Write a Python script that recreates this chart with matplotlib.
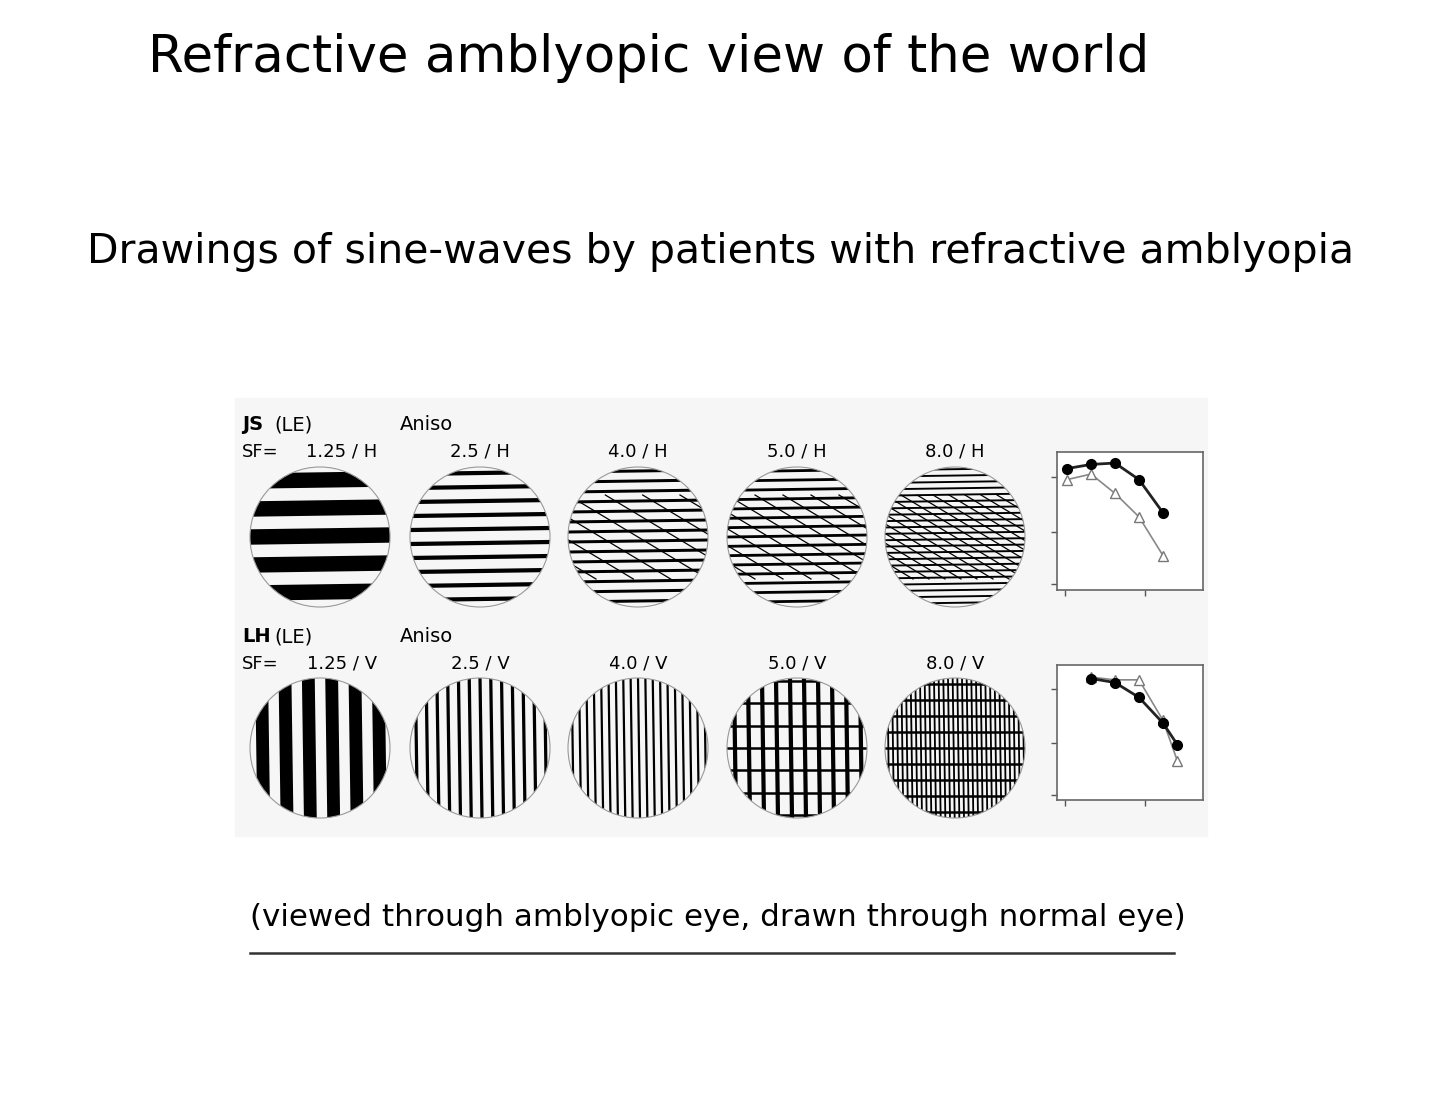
import matplotlib
matplotlib.use("Agg")
import matplotlib.pyplot as plt
import numpy as np
from matplotlib.patches import Circle, Rectangle

title = "Refractive amblyopic view of the world"
subtitle = "Drawings of sine-waves by patients with refractive amblyopia"
caption = "(viewed through amblyopic eye, drawn through normal eye)"
sf_labels_h = ["1.25 / H", "2.5 / H", "4.0 / H", "5.0 / H", "8.0 / H"]
sf_labels_v = ["1.25 / V", "2.5 / V", "4.0 / V", "5.0 / V", "8.0 / V"]
n_lines_h = [5, 10, 14, 15, 22]
n_lines_v = [6, 13, 19, 10, 30]
hatch_h = [0, 0, 6, 8, 14]
hatch_v = [0, 0, 0, 10, 14]

p1_x = [0, 1, 2, 3, 4]
p1_filled = [0.88, 0.91, 0.92, 0.80, 0.56]
p1_open = [0.80, 0.84, 0.70, 0.53, 0.25]
p2_x = [1, 2, 3, 4, 4.6]
p2_filled = [0.90, 0.87, 0.76, 0.57, 0.41]
p2_open = [0.91, 0.89, 0.89, 0.59, 0.29]

W, H = 1440, 1117
fig = plt.figure(figsize=(14.4, 11.17), dpi=100)
ax = fig.add_axes([0, 0, 1, 1])
ax.set_xlim(0, W); ax.set_ylim(H, 0); ax.axis("off")

ax.add_patch(Rectangle((235, 398), 972, 438, color="#f6f6f6", zorder=0))
ax.text(148, 58, title, fontsize=37, va="center", ha="left")
ax.text(87, 252, subtitle, fontsize=29.5, va="center", ha="left")
ax.text(250, 918, caption, fontsize=22.3, va="center", ha="left")
ax.plot([250, 1174], [953, 953], color="#333333", lw=1.8)

cx = [320, 480, 638, 797, 955]
R = 70

def grating(x0, y0, n, vertical, nh, thick):
    c = Circle((x0, y0), R, fill=False, ec="#999999", lw=0.8, zorder=3)
    ax.add_patch(c)
    clip = Circle((x0, y0), R, transform=ax.transData)
    period = 2 * R / n
    lw = period * 0.55 * 0.72 if thick else max(1.3, period * 0.3 * 0.72)
    for i in range(n):
        o = -R + period * (i + 0.5)
        if vertical:
            l, = ax.plot([x0 + o, x0 + o + 2], [y0 - R, y0 + R], color="k", lw=lw, zorder=2)
        else:
            l, = ax.plot([x0 - R, x0 + R], [y0 + o, y0 + o - 2], color="k", lw=lw, zorder=2)
        l.set_clip_path(clip)
    if nh:
        p2 = 2 * R * 1.6 / nh
        for i in range(nh + 2):
            o = -1.6 * R + p2 * i
            if vertical:
                l, = ax.plot([x0 - R, x0 + R], [y0 + o, y0 + o], color="k", lw=1.8, zorder=2)
            else:
                l, = ax.plot([x0 + o - R, x0 + o + R], [y0 - R * 0.6, y0 + R * 0.6], color="k", lw=0.9, zorder=2)
            l.set_clip_path(clip)

for row, (yc, labs, ns, hs, v) in enumerate([(537, sf_labels_h, n_lines_h, hatch_h, False),
                                              (748, sf_labels_v, n_lines_v, hatch_v, True)]):
    yl = 425 if row == 0 else 637
    name = "JS" if row == 0 else "LH"
    ax.text(242, yl, name, fontsize=14, fontweight="bold", va="center")
    ax.text(274, yl, "(LE)", fontsize=14, va="center")
    ax.text(400, yl, "Aniso", fontsize=14, va="center")
    ax.text(242, yl + 27, "SF=", fontsize=13, va="center")
    for i in range(5):
        ax.text(cx[i] + (22 if i == 0 else 0), yl + 27, labs[i], fontsize=13, va="center", ha="center")
        grating(cx[i], yc, ns[i], v, hs[i], i == 0)

def small(rect, xs, f, o, xlim):
    a = fig.add_axes(rect)
    a.set_xlim(*xlim); a.set_ylim(0, 1)
    a.plot(xs, o, color="#888888", lw=1.2, marker="^", mfc="white", mec="#777777", ms=7)
    a.plot(xs, f, color="#222222", lw=2, marker="o", mfc="k", mec="k", ms=7)
    a.set_yticks([0.04, 0.42, 0.82]); a.set_xticks([-0.08, 3.25])
    a.set_yticklabels([]); a.set_xticklabels([])
    a.tick_params(length=4, color="#555555", width=1)
    for s in a.spines.values():
        s.set_color("#666666"); s.set_linewidth(1.2)
    a.set_facecolor("white")

small([1057 / W, 1 - 590 / H, 146 / W, 138 / H], p1_x, p1_filled, p1_open, (-0.42, 5.67))
small([1057 / W, 1 - 800 / H, 146 / W, 135 / H], p2_x, p2_filled, p2_open, (-0.42, 5.67))

fig.savefig("out.png", dpi=100)
